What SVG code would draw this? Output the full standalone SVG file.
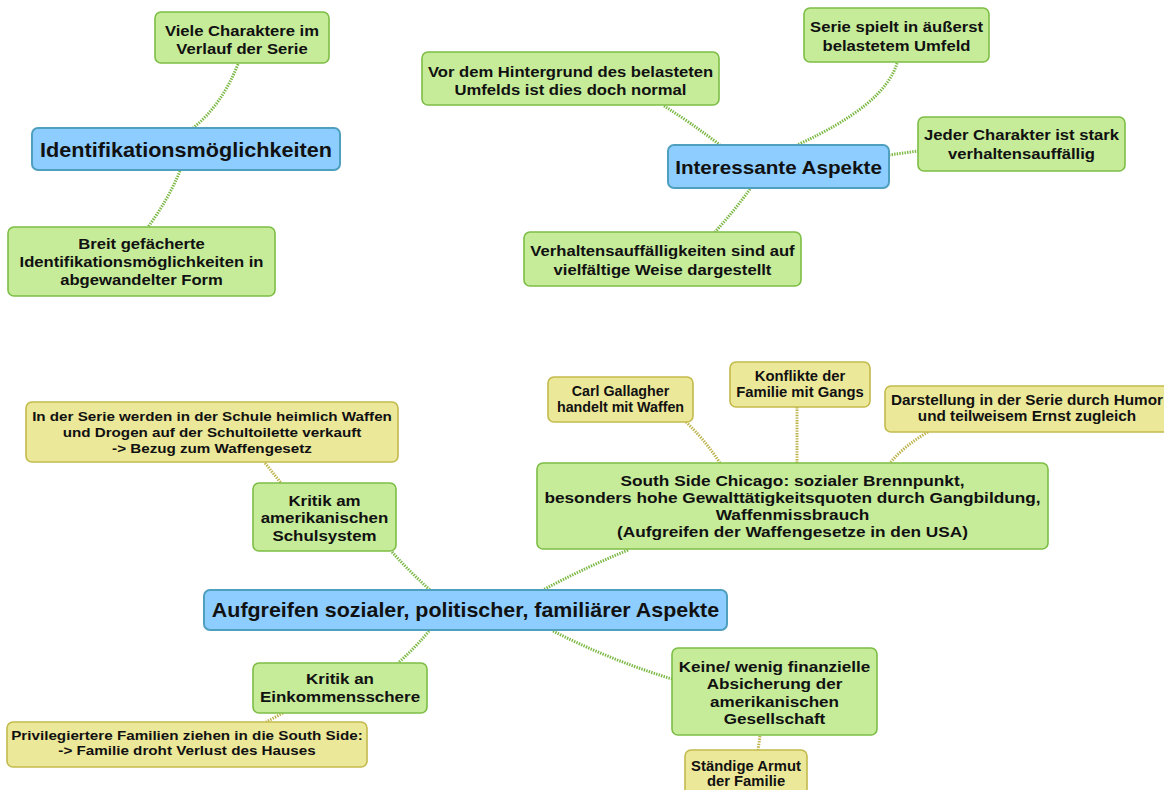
<svg xmlns="http://www.w3.org/2000/svg" width="1164" height="790" viewBox="0 0 1164 790">
<style>
.g{fill:#c6ec9a;stroke:#7dbd45;stroke-width:1.6}
.y{fill:#ece899;stroke:#c3ba4c;stroke-width:1.6}
.b{fill:#8dcdff;stroke:#4f9fbf;stroke-width:2}
.t{font-family:"Liberation Sans",Arial,sans-serif;font-weight:bold;fill:#111;text-anchor:middle}
.cg{fill:none;stroke:#7ab843;stroke-width:3;stroke-dasharray:1.4 1.2}
.cy{fill:none;stroke:#bdb24a;stroke-width:3;stroke-dasharray:1.4 1.2}
</style>
<rect width="1164" height="790" fill="#ffffff"/>
<g id="connectors">
<path class="cg" d="M238,64 Q222,105 193,128"/>
<path class="cg" d="M180,171 Q168,200 148,227"/>
<path class="cg" d="M664,106 Q690,122 720,145"/>
<path class="cg" d="M897,63 Q885,105 797,145"/>
<path class="cg" d="M889,155 L918,151"/>
<path class="cg" d="M750,189 Q735,210 715,232"/>
<path class="cy" d="M265,463 L281,483"/>
<path class="cg" d="M392,552 Q410,572 430,590"/>
<path class="cg" d="M628,550 Q580,570 543,590"/>
<path class="cy" d="M686,422 Q705,440 720,463"/>
<path class="cy" d="M797,407 L797,463"/>
<path class="cy" d="M928,432 Q905,445 890,463"/>
<path class="cg" d="M429,631 Q415,648 398,663"/>
<path class="cy" d="M283,713 L266,722"/>
<path class="cg" d="M553,631 Q610,660 672,679"/>
<path class="cy" d="M760,736 L758,750"/>
</g>
<g id="n-viele"><rect class="g" x="155" y="12" width="174" height="51" rx="6"/>
<text class="t" font-size="15" transform="translate(242,0) scale(1.11,1)"><tspan x="0" y="36">Viele Charaktere im</tspan><tspan x="0" y="54">Verlauf der Serie</tspan></text></g>
<g id="n-ident"><rect class="b" x="32" y="128" width="308" height="42" rx="6"/>
<text class="t" font-size="21" transform="translate(186,0) scale(1.03,1)"><tspan x="0" y="157">Identifikationsmöglichkeiten</tspan></text></g>
<g id="n-breit"><rect class="g" x="8" y="227" width="267" height="69" rx="6"/>
<text class="t" font-size="15" transform="translate(141.5,0) scale(1.11,1)"><tspan x="0" y="249">Breit gefächerte</tspan><tspan x="0" y="267">Identifikationsmöglichkeiten in</tspan><tspan x="0" y="285">abgewandelter Form</tspan></text></g>
<g id="n-vor"><rect class="g" x="422" y="52" width="297" height="53" rx="6"/>
<text class="t" font-size="15" transform="translate(570.5,0) scale(1.11,1)"><tspan x="0" y="77.5">Vor dem Hintergrund des belasteten</tspan><tspan x="0" y="95.5">Umfelds ist dies doch normal</tspan></text></g>
<g id="n-serie"><rect class="g" x="804" y="8" width="185" height="54" rx="6"/>
<text class="t" font-size="15" transform="translate(896.5,0) scale(1.11,1)"><tspan x="0" y="32.5">Serie spielt in äußerst</tspan><tspan x="0" y="51">belastetem Umfeld</tspan></text></g>
<g id="n-interessant"><rect class="b" x="668" y="145" width="221" height="43" rx="6"/>
<text class="t" font-size="18.6" transform="translate(778.5,0) scale(1.11,1)"><tspan x="0" y="174">Interessante Aspekte</tspan></text></g>
<g id="n-jeder"><rect class="g" x="918" y="117" width="207" height="54" rx="6"/>
<text class="t" font-size="15" transform="translate(1021.5,0) scale(1.11,1)"><tspan x="0" y="140.5">Jeder Charakter ist stark</tspan><tspan x="0" y="159.5">verhaltensauffällig</tspan></text></g>
<g id="n-verhalten"><rect class="g" x="524" y="232" width="277" height="54" rx="6"/>
<text class="t" font-size="15" transform="translate(662.5,0) scale(1.11,1)"><tspan x="0" y="256.5">Verhaltensauffälligkeiten sind auf</tspan><tspan x="0" y="275.5">vielfältige Weise dargestellt</tspan></text></g>
<g id="n-schule-detail"><rect class="y" x="26" y="402" width="372" height="60" rx="6"/>
<text class="t" font-size="13" transform="translate(212,0) scale(1.17,1)"><tspan x="0" y="421.5">In der Serie werden in der Schule heimlich Waffen</tspan><tspan x="0" y="437.5">und Drogen auf der Schultoilette verkauft</tspan><tspan x="0" y="453.5">-&gt; Bezug zum Waffengesetz</tspan></text></g>
<g id="n-schulsystem"><rect class="g" x="253" y="483" width="143" height="68" rx="6"/>
<text class="t" font-size="14.2" transform="translate(324.5,0) scale(1.19,1)"><tspan x="0" y="506">Kritik am</tspan><tspan x="0" y="523.5">amerikanischen</tspan><tspan x="0" y="541">Schulsystem</tspan></text></g>
<g id="n-carl"><rect class="y" x="548" y="377" width="145" height="45" rx="6"/>
<text class="t" font-size="14" transform="translate(620.5,0) scale(1.02,1)"><tspan x="0" y="396.5">Carl Gallagher</tspan><tspan x="0" y="412">handelt mit Waffen</tspan></text></g>
<g id="n-konflikte"><rect class="y" x="730" y="362" width="140" height="45" rx="6"/>
<text class="t" font-size="14" transform="translate(800,0) scale(1.06,1)"><tspan x="0" y="381.5">Konflikte der</tspan><tspan x="0" y="397">Familie mit Gangs</tspan></text></g>
<g id="n-darstellung"><rect class="y" x="885" y="386" width="284" height="46" rx="6"/>
<text class="t" font-size="15" transform="translate(1027,0) scale(1.02,1)"><tspan x="0" y="405.5">Darstellung in der Serie durch Humor</tspan><tspan x="0" y="421.5">und teilweisem Ernst zugleich</tspan></text></g>
<g id="n-southside"><rect class="g" x="537" y="463" width="511" height="86" rx="6"/>
<text class="t" font-size="15" transform="translate(792.5,0) scale(1.15,1)"><tspan x="0" y="486.5">South Side Chicago: sozialer Brennpunkt,</tspan><tspan x="0" y="503.5">besonders hohe Gewalttätigkeitsquoten durch Gangbildung,</tspan><tspan x="0" y="520.5">Waffenmissbrauch</tspan><tspan x="0" y="537.5">(Aufgreifen der Waffengesetze in den USA)</tspan></text></g>
<g id="n-aufgreifen"><rect class="b" x="204" y="590" width="523" height="40" rx="6"/>
<text class="t" font-size="21" transform="translate(465.5,0) scale(1.02,1)"><tspan x="0" y="617">Aufgreifen sozialer, politischer, familiärer Aspekte</tspan></text></g>
<g id="n-einkommen"><rect class="g" x="253" y="663" width="174" height="50" rx="6"/>
<text class="t" font-size="14.5" transform="translate(340,0) scale(1.17,1)"><tspan x="0" y="684">Kritik an</tspan><tspan x="0" y="702">Einkommensschere</tspan></text></g>
<g id="n-privileg"><rect class="y" x="7" y="722" width="360" height="45" rx="6"/>
<text class="t" font-size="12.8" transform="translate(187,0) scale(1.19,1)"><tspan x="0" y="740.5">Privilegiertere Familien ziehen in die South Side:</tspan><tspan x="0" y="755">-&gt; Familie droht Verlust des Hauses</tspan></text></g>
<g id="n-keine"><rect class="g" x="672" y="648" width="205" height="87" rx="6"/>
<text class="t" font-size="15.4" transform="translate(774.5,0) scale(1.11,1)"><tspan x="0" y="672">Keine/ wenig finanzielle</tspan><tspan x="0" y="689.5">Absicherung der</tspan><tspan x="0" y="707">amerikanischen</tspan><tspan x="0" y="724.5">Gesellschaft</tspan></text></g>
<g id="n-armut"><rect class="y" x="685" y="750" width="122" height="50" rx="6"/>
<text class="t" font-size="14" transform="translate(746,0) scale(1.06,1)"><tspan x="0" y="771">Ständige Armut</tspan><tspan x="0" y="786">der Familie</tspan></text></g>
</svg>
